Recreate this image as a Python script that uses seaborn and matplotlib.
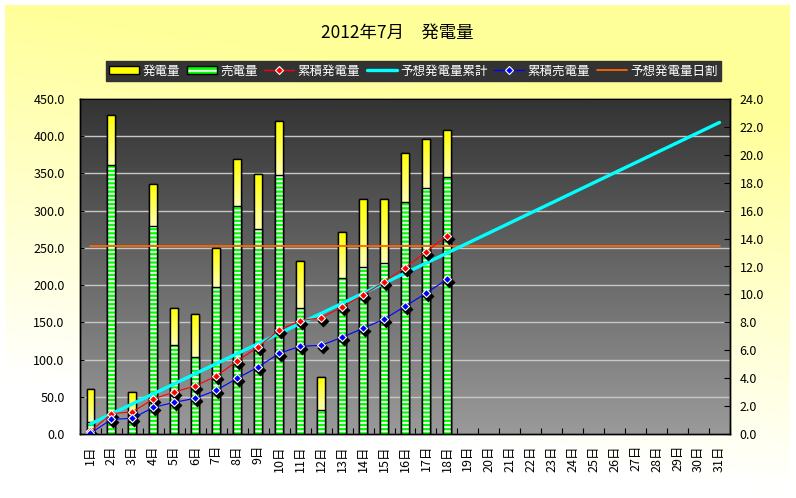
import matplotlib
matplotlib.use("Agg")
import matplotlib.pyplot as plt
import matplotlib.transforms as mtransforms
from matplotlib.colors import LinearSegmentedColormap
from matplotlib.lines import Line2D
from matplotlib.patches import Patch
import numpy as np
import pandas as pd
import seaborn as sns

# ---------------- データ ----------------
days = ["1日", "2日", "3日", "4日", "5日", "6日", "7日", "8日", "9日", "10日",
        "11日", "12日", "13日", "14日", "15日", "16日", "17日", "18日", "19日", "20日",
        "21日", "22日", "23日", "24日", "25日", "26日", "27日", "28日", "29日", "30日", "31日"]

# 発電量 / 売電量 (左軸)
gen = [61, 428, 57, 336, 169, 161, 250, 369, 349, 420,
       232, 76, 271, 315, 315, 377, 396, 408]
sell = [16, 361, 16, 280, 119, 104, 198, 306, 276, 348,
        169, 32, 209, 224, 230, 311, 330, 345]

# 累積 (右軸)
cum_gen = [0.18, 1.46, 1.58, 2.51, 3.01, 3.44, 4.15, 5.23, 6.25, 7.45,
           8.12, 8.33, 9.10, 9.96, 10.89, 11.92, 13.04, 14.21]
cum_sell = [0.05, 1.05, 1.12, 1.91, 2.27, 2.56, 3.13, 3.99, 4.80, 5.78,
            6.28, 6.35, 6.93, 7.57, 8.22, 9.15, 10.08, 11.08]
forecast_cum = [0.72, 1.44, 2.16, 2.88, 3.60, 4.32, 5.04, 5.76, 6.48, 7.20,
                7.92, 8.64, 9.36, 10.08, 10.80, 11.52, 12.24, 12.96, 13.68, 14.40,
                15.12, 15.84, 16.56, 17.28, 18.00, 18.72, 19.44, 20.16, 20.88, 21.60, 22.32]
forecast_day = [252.0] * 31

left_ticks = [0, 50, 100, 150, 200, 250, 300, 350, 400, 450]
right_ticks = [0, 2, 4, 6, 8, 10, 12, 14, 16, 18, 20, 22, 24]

# ---------------- 設定 ----------------
sns.set_theme(style="white")
plt.rcParams['font.family'] = ['Noto Sans CJK JP', 'DejaVu Sans']
plt.rcParams['hatch.linewidth'] = 1.4

fig = plt.figure(figsize=(7.96, 4.98), dpi=100)
fig.patch.set_facecolor('white')

# 背景グラデーション
bg = fig.add_axes([5 / 796, 5 / 498, 785 / 796, 488 / 498], zorder=-10)
yy, xx = np.mgrid[0:1:200j, 0:1:200j]
w = np.clip(yy * 1.3 - 0.3 * xx, 0, 1)
yellow = np.array([1.0, 1.0, 0.6])
img = yellow[None, None, :] * (1 - w[..., None]) + np.ones(3)[None, None, :] * w[..., None]
bg.imshow(img, aspect='auto', extent=(0, 1, 0, 1), origin='upper')
bg.set_axis_off()

ax1 = fig.add_axes([80 / 796, 1 - 434 / 498, 650 / 796, 335 / 498])

df_gen = pd.DataFrame({'day': days[:len(gen)], 'gen': gen, 'sell': sell})

sns.barplot(data=df_gen, x='day', y='gen', order=days, color='#FFFF00', saturation=1,
            edgecolor='black', linewidth=1, width=0.38, ax=ax1, zorder=2)
# 発電量バーのグラデーション (見えている部分: 売電量の上端から発電量まで)
bar_cmap = LinearSegmentedColormap.from_list('y', ['#FFFFB4', '#FFFF00'])
bar_grad = np.linspace(0, 1, 64).reshape(-1, 1)
for p, s in zip(ax1.containers[-1], sell):
    x0, h, bw = p.get_x(), p.get_height(), p.get_width()
    im = ax1.imshow(bar_grad, aspect='auto', cmap=bar_cmap, origin='lower',
                    extent=(x0, x0 + bw, s, h), zorder=2.1)
    im.set_clip_path(p)
sns.barplot(data=df_gen, x='day', y='gen', order=days, color='black', fill=False,
            linewidth=1, width=0.38, ax=ax1, zorder=2.2)

sns.barplot(data=df_gen, x='day', y='sell', order=days, color='#00FF00', saturation=1,
            width=0.38, ax=ax1, zorder=3)
# 売電量の縞模様
for p in ax1.containers[-1]:
    p.set_edgecolor('#F4FFF4')
    p.set_linewidth(0)
    p.set_hatch('----')
sns.barplot(data=df_gen, x='day', y='sell', order=days, color='black', fill=False,
            linewidth=1, width=0.38, ax=ax1, zorder=4)

df_fd = pd.DataFrame({'day': days, 'v': forecast_day})
sns.pointplot(data=df_fd, x='day', y='v', order=days, color='#FF6600', markers='',
              linestyles='-', linewidth=1.3, errorbar=None, ax=ax1, zorder=5)

# プロットエリアのグラデーション
grad = np.linspace(0, 1, 256).reshape(-1, 1)
cmap = LinearSegmentedColormap.from_list('g', ['#9A9A9A', '#333333'])
ax1.imshow(grad, aspect='auto', cmap=cmap, extent=(-0.5, 30.5, 0, 450), origin='lower', zorder=0)
ax1.set_xlim(-0.5, 30.5)
ax1.set_ylim(0, 450)
ax1.set_axisbelow(True)
ax1.yaxis.grid(True, color='#C8C8C8', linewidth=1)
ax1.xaxis.grid(False)

ax2 = ax1.twinx()
df_fc = pd.DataFrame({'day': days, 'v': forecast_cum})
sns.pointplot(data=df_fc, x='day', y='v', order=days, color='#00FFFF', markers='',
              linestyles='-', linewidth=2.4, errorbar=None, ax=ax2)

shadow = mtransforms.ScaledTranslation(2 / 100, -3 / 100, fig.dpi_scale_trans)
df_cum = pd.DataFrame({'day': days[:len(cum_gen)], 'g': cum_gen, 's': cum_sell})
for col, c in [('g', '#FF0000'), ('s', '#0000FF')]:
    sns.pointplot(data=df_cum, x='day', y=col, order=days, color='black', markers='D',
                  linestyles='none', markersize=3.8, errorbar=None, ax=ax2)
    ax2.lines[-1].set_transform(ax2.transData + shadow)
    sns.pointplot(data=df_cum, x='day', y=col, order=days, color=c, markers='D',
                  linestyles='-', linewidth=0.8, markersize=4.5, markeredgecolor='white',
                  markeredgewidth=0.8, errorbar=None, ax=ax2)

ax2.set_ylim(0, 24)
ax2.set_xlim(-0.5, 30.5)

# 軸
ax1.set_yticks(left_ticks)
ax1.set_yticklabels([f"{v:.1f}" for v in left_ticks])
ax2.set_yticks(right_ticks)
ax2.set_yticklabels([f"{v:.1f}" for v in right_ticks])
ax1.set_xticks(range(len(days)))
ax1.set_xticklabels(days, rotation=90)
ax1.set_xticks(np.arange(-0.5, 31, 1), minor=True)
ax1.tick_params(axis='x', which='major', length=0, pad=8, labelsize=9, colors='black')
ax1.tick_params(axis='x', which='minor', direction='in', length=4, width=0.8,
                bottom=True, color='black')
ax1.tick_params(axis='y', which='major', direction='in', length=3, width=0.8,
                left=True, pad=11, labelsize=9, colors='black')
ax2.tick_params(axis='y', which='major', direction='in', length=4, width=0.8,
                right=True, pad=7, labelsize=9, colors='black')
for ax in (ax1, ax2):
    ax.set_xlabel('')
    ax.set_ylabel('')
    for sp in ax.spines.values():
        sp.set_color('black')
        sp.set_linewidth(1)

# 凡例
handles = [
    Patch(facecolor='#FFFF00', edgecolor='black', linewidth=1),
    (Patch(facecolor='#00FF00', edgecolor='#F4FFF4', hatch='--', linewidth=0),
     Patch(fill=False, edgecolor='black', linewidth=1)),
    Line2D([], [], color='#FF0000', lw=1, marker='D', markersize=4.5,
           markeredgecolor='white', markeredgewidth=0.8),
    Line2D([], [], color='#00FFFF', lw=2.4),
    Line2D([], [], color='#0000FF', lw=1, marker='D', markersize=4.5,
           markeredgecolor='white', markeredgewidth=0.8),
    Line2D([], [], color='#FF6600', lw=1.3),
]
labels = ['発電量', '売電量', '累積発電量', '予想発電量累計', '累積売電量', '予想発電量日割']
leg = fig.legend(handles, labels, loc='center', bbox_to_anchor=(413.5 / 796, 1 - 71 / 498),
                 ncol=6, frameon=True, fontsize=9, handlelength=2.4, handletextpad=0.3,
                 columnspacing=0.5, borderpad=0.25, fancybox=False)
leg.get_frame().set_facecolor('#333333')
leg.get_frame().set_edgecolor('#333333')
leg.get_frame().set_alpha(1)
for t in leg.get_texts():
    t.set_color('white')

fig.text(397 / 796, 1 - 33 / 498, "2012年7月　発電量", ha='center', va='center',
         fontsize=12.5, color='black')

fig.savefig('out.png', dpi=100)
